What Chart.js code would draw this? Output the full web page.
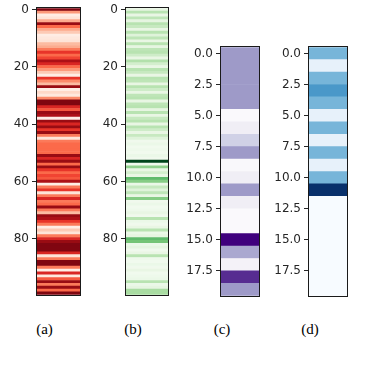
<!DOCTYPE html>
<html><head><meta charset="utf-8">
<script src="https://cdn.jsdelivr.net/npm/chart.js@4/dist/chart.umd.min.js"></script>
<style>
html,body{margin:0;padding:0;background:#fff;width:382px;height:370px;overflow:hidden;position:relative}
canvas{position:absolute}
.cap{position:absolute;font-family:"Liberation Serif","Times New Roman",serif;font-size:15px;color:#000;transform:translateX(-50%);white-space:nowrap;line-height:18px}
</style></head><body>
<script>
// ---- data ----
const valuesA = [0.95,0.35,0.05,0.1,0.3,0.9,0.5,0.3,0.2,0.05,
  0.08,0.1,0.25,0.3,0.45,0.65,0.5,0.6,0.85,0.7,
  0.5,0.35,0.2,0.05,0.65,0.4,0.25,0.9,0.05,0.15,
  0.08,0.4,0.95,0.95,0.7,0.55,0.9,0.85,0.05,0.9,
  0.7,0.9,0.65,0.9,0.45,0.1,0.45,0.5,0.5,0.5,
  0.5,0.9,0.7,0.9,0.5,0.9,0.65,0.5,0.6,0.55,
  0.85,0.05,0.45,0.65,0.1,0.45,0.7,0.45,0.5,0.9,
  0.45,0.25,0.9,0.85,0.65,0.45,0.05,0.2,0.1,0.45,
  0.7,0.9,0.95,0.95,0.95,0.7,0.1,0.45,0.95,0.95,
  0.45,0.05,0.7,0.08,0.55,0.9,0.45,0.9,0.5,0.95];
const valuesB = [0.12,0.3,0.1,0.28,0.12,0.3,0.25,0.1,0.3,0.15,
  0.28,0.1,0.3,0.12,0.28,0.3,0.22,0.1,0.32,0.2,
  0.1,0.3,0.25,0.1,0.3,0.28,0.1,0.3,0.22,0.1,
  0.28,0.3,0.1,0.28,0.3,0.12,0.3,0.1,0.25,0.3,
  0.1,0.3,0.22,0.1,0.25,0.15,0.05,0.08,0.04,0.06,
  0.04,0.08,0.05,1.0,0.05,0.42,0.1,0.2,0.1,0.55,
  0.45,0.08,0.25,0.15,0.28,0.1,0.45,0.05,0.08,0.04,
  0.06,0.1,0.05,0.3,0.08,0.05,0.1,0.3,0.08,0.12,
  0.55,0.5,0.08,0.12,0.05,0.1,0.3,0.06,0.04,0.08,
  0.05,0.1,0.04,0.06,0.08,0.3,0.08,0.12,0.35,0.35];
const valuesC = [0.5,0.5,0.5,0.5,0.5,0.02,0.12,0.29,0.5,0.03,0.12,0.5,0.12,0.02,0.02,1.0,0.45,0.08,0.86,0.5];
const valuesD = [0.47,0.08,0.47,0.6,0.47,0.08,0.47,0.08,0.47,0.08,0.47,1.0,0,0,0,0,0,0,0,0];
const ticksAB = [0,20,40,60,80];
const ticksCD = [0,2.5,5,7.5,10,12.5,15,17.5];
const tickLabelsAB = ['0','20','40','60','80'];
const tickLabelsCD = ['0.0','2.5','5.0','7.5','10.0','12.5','15.0','17.5'];
const captions = ['(a)','(b)','(c)','(d)'];

// ---- colour maps (matplotlib sequential) ----
const CMAPS = {
  Reds:   ['#fff5f0','#fee0d2','#fcbba1','#fc9272','#fb6a4a','#ef3b2c','#cb181d','#a50f15','#67000d'],
  Greens: ['#f7fcf5','#e5f5e0','#c7e9c0','#a1d99b','#74c476','#41ab5d','#238b45','#006d2c','#00441b'],
  Purples:['#fcfbfd','#efedf5','#dadaeb','#bcbddc','#9e9ac8','#807dba','#6a51a3','#54278f','#3f007d'],
  Blues:  ['#f7fbff','#deebf7','#c6dbef','#9ecae1','#6baed6','#4292c6','#2171b5','#08519c','#08306b']
};
function hex(h){return [parseInt(h.slice(1,3),16),parseInt(h.slice(3,5),16),parseInt(h.slice(5,7),16)];}
function cmap(name,v){
  const st=CMAPS[name]; v=Math.max(0,Math.min(1,v));
  const f=v*(st.length-1); const i=Math.min(st.length-2,Math.floor(f)); const t=f-i;
  const a=hex(st[i]), b=hex(st[i+1]);
  return 'rgb('+a.map((c,k)=>Math.round(c+(b[k]-c)*t)).join(',')+')';
}

const AXW=36, PAD=8, PADR=3;
const panels = [
  {vals:valuesA, cm:'Reds',    tv:ticksAB, tl:tickLabelsAB, left:37,  top:6,  w:43, h:291, cx:44.5},
  {vals:valuesB, cm:'Greens',  tv:ticksAB, tl:tickLabelsAB, left:126, top:6,  w:42, h:291, cx:133},
  {vals:valuesC, cm:'Purples', tv:ticksCD, tl:tickLabelsCD, left:221, top:45, w:38, h:253, cx:222},
  {vals:valuesD, cm:'Blues',   tv:ticksCD, tl:tickLabelsCD, left:309, top:45, w:38, h:253, cx:310}
];

const frame = {id:'frame', afterDraw(c){
  const a=c.chartArea, x=c.ctx; x.save(); x.strokeStyle='#1a1a1a'; x.lineWidth=1;
  x.strokeRect(Math.round(a.left)-0.5, Math.round(a.top)-0.5, Math.round(a.right-a.left)+1, Math.round(a.bottom-a.top)+1);
  x.restore();
}};

panels.forEach((p,pi)=>{
  const cv=document.createElement('canvas');
  const W=p.w+AXW+PADR, H=p.h+2*PAD;
  cv.width=W; cv.height=H; cv.style.width=W+'px'; cv.style.height=H+'px';
  cv.style.left=(p.left-AXW)+'px'; cv.style.top=(p.top-PAD)+'px';
  document.body.appendChild(cv);
  const n=p.vals.length;
  new Chart(cv,{
    type:'bar',
    data:{datasets:[{
      data:p.vals.map((v,i)=>({x:1,y:i})),
      backgroundColor:p.vals.map(v=>cmap(p.cm,v)),
      borderWidth:0, barPercentage:1, categoryPercentage:1
    }]},
    options:{
      indexAxis:'y', responsive:false, animation:false, devicePixelRatio:1,
      layout:{padding:{left:0,right:PADR,top:PAD,bottom:PAD}},
      plugins:{legend:{display:false},tooltip:{enabled:false}},
      scales:{
        x:{type:'linear',min:0,max:1,display:false,offset:false},
        y:{type:'linear',reverse:true,min:-0.5,max:n-0.5,offset:false,
          afterBuildTicks:s=>{s.ticks=p.tv.map(v=>({value:v}));},
          afterFit:s=>{s.width=AXW;},
          ticks:{callback:(v,i)=>p.tl[i], color:'#262626', font:{family:'DejaVu Sans',size:12}, padding:3, autoSkip:false, maxRotation:0},
          grid:{offset:false, drawOnChartArea:false, drawTicks:true, tickLength:5, color:'#262626', lineWidth:1},
          border:{display:false}
        }
      }
    },
    plugins:[frame]
  });
  const d=document.createElement('div'); d.className='cap'; d.textContent=captions[pi];
  d.style.left=p.cx+'px'; d.style.top='320px'; document.body.appendChild(d);
});
</script>
</body></html>
